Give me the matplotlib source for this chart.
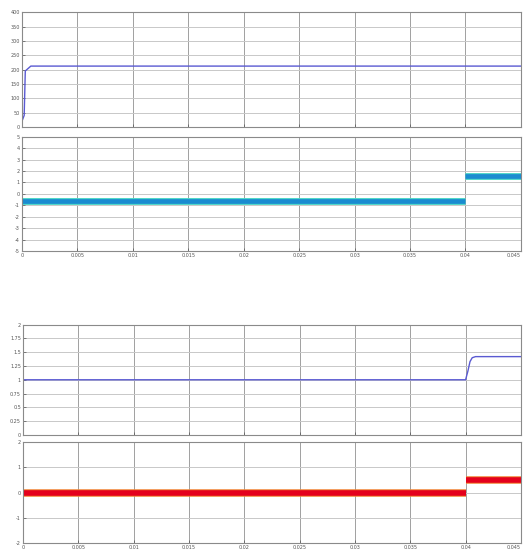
import matplotlib.pyplot as plt
from matplotlib.ticker import FuncFormatter
import numpy as np

# time axis limits and tick marks (s)
t_ticks = [0, 0.005, 0.01, 0.015, 0.02, 0.025, 0.03, 0.035, 0.04, 0.045]
t_end = 0.045

# scope 1: speed start-up
t_speed = [0, 0.0002, 0.0003, 0.0008, 0.045]
speed = [20, 40, 195, 212, 212]

# scope 2: reference signal, step at 0.04 s
t_ref = [0, 0.04, 0.04, 0.04, 0.045]
ref = [-0.6, -0.6, np.nan, 1.6, 1.6]

# scope 3: output response
t_out = [0, 0.04, 0.0402, 0.0404, 0.0406, 0.0409, 0.045]
out = [1.0, 1.0, 1.15, 1.33, 1.40, 1.42, 1.42]

# scope 4: control signal
t_ctrl = [0, 0.04, 0.04, 0.04, 0.045]
ctrl = [0.0, 0.0, np.nan, 0.5, 0.5]

fig = plt.figure(figsize=(5.23, 5.54), dpi=100)
fmt = FuncFormatter(lambda v, p: '%g' % round(v, 6))

def scope(rect, ylim, yticks, xlabels=True):
    ax = fig.add_axes(rect)
    ax.set_xlim(0, t_end)
    ax.set_ylim(*ylim)
    ax.set_xticks(t_ticks)
    ax.set_yticks(yticks)
    ax.xaxis.set_major_formatter(fmt)
    ax.yaxis.set_major_formatter(fmt)
    ax.xaxis.grid(True, color='#a0a0a0', linewidth=0.7)
    ax.yaxis.grid(True, color='#c8c8c8', linewidth=0.7)
    ax.tick_params(direction='in', length=2, width=0.5, labelsize=3.5,
                   colors='#555555', pad=1.5)
    ax.tick_params(axis='x', labelbottom=xlabels)
    for s in ax.spines.values():
        s.set_color('#8a8a8a')
        s.set_linewidth(0.8)
    ax.set_axisbelow(True)
    if xlabels:
        # keep the last time label inside the figure
        ax.get_xticklabels()[-1].set_horizontalalignment('right')
    return ax

ax1 = scope([0.042, 0.771, 0.954, 0.207], (0, 400), np.arange(0, 401, 50), False)
ax1.plot(t_speed, speed, color='#5a5ad2', linewidth=1.0)

ax2 = scope([0.042, 0.547, 0.954, 0.206], (-5, 5), np.arange(-5, 6, 1))
ax2.plot(t_ref, ref, color='#4fd6c8', linewidth=5.0, solid_capstyle='butt')
ax2.plot(t_ref, ref, color='#1a8bd0', linewidth=3.4, solid_capstyle='butt')

ax3 = scope([0.044, 0.215, 0.952, 0.199], (0, 2), np.arange(0, 2.01, 0.25), False)
ax3.plot(t_out, out, color='#5a5ad2', linewidth=1.0)

ax4 = scope([0.044, 0.020, 0.952, 0.182], (-2, 2), np.arange(-2, 3, 1))
ax4.plot(t_ctrl, ctrl, color='#f08030', linewidth=5.4, solid_capstyle='butt')
ax4.plot(t_ctrl, ctrl, color='#e4001c', linewidth=4.0, solid_capstyle='butt')

fig.savefig('out.png', dpi=100)
